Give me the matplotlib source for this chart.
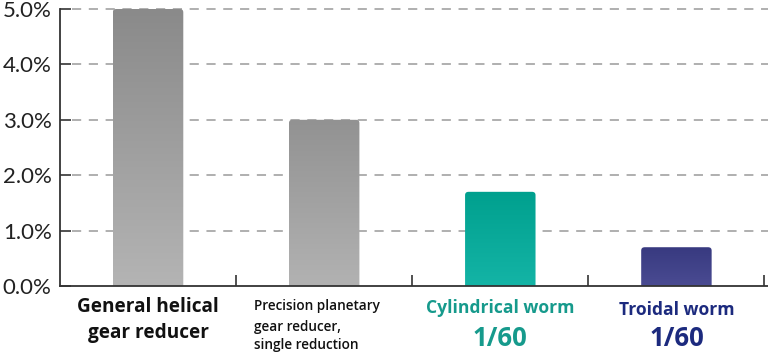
import matplotlib
matplotlib.use("Agg")
import matplotlib.pyplot as plt
import numpy as np
from matplotlib.colors import LinearSegmentedColormap
from matplotlib.patches import FancyBboxPatch

categories = ["General helical\ngear reducer",
              "Precision planetary\ngear reducer,\nsingle reduction",
              "Cylindrical worm", "Troidal worm"]
values = [5.0, 3.0, 1.7, 0.7]
sublabels = ["", "", "1/60", "1/60"]
yticks = [0.0, 1.0, 2.0, 3.0, 4.0, 5.0]
ytick_labels = ["0.0%", "1.0%", "2.0%", "3.0%", "4.0%", "5.0%"]

top_colors = ["#8a8a8a", "#929292", "#00a08e", "#383a80"]
bot_colors = ["#b4b4b4", "#b2b2b2", "#14b4a6", "#4a4b92"]
text_colors = ["#111111", "#111111", "#169a8c", "#1c2a7e"]

fig = plt.figure(figsize=(7.68, 3.54), dpi=100)
ax = fig.add_axes([60/768, 68/354, 708/768, 277/354])
ax.set_xlim(0, 4.02)
ax.set_ylim(0, 5.0)

for y in yticks[1:]:
    ax.axhline(y, xmin=0.017, color="#9a9a9a", lw=1.1, ls=(0, (6, 5)), zorder=1, clip_on=False)

width = 0.4
for i, v in enumerate(values):
    x0 = i + 0.5 - width / 2
    cmap = LinearSegmentedColormap.from_list("g", [bot_colors[i], top_colors[i]])
    grad = np.linspace(0, 1, 256).reshape(-1, 1)
    im = ax.imshow(grad, extent=[x0, x0 + width, 0, v], origin="lower",
                   aspect="auto", cmap=cmap, zorder=2)
    clip = FancyBboxPatch((x0, -0.2), width, v + 0.2,
                          boxstyle="round,pad=0,rounding_size=0.02",
                          mutation_aspect=3, transform=ax.transData,
                          facecolor="none", edgecolor="none")
    ax.add_patch(clip)
    im.set_clip_path(clip)
    im.set_clip_on(True)

ax.set_aspect("auto")
ax.set_xlim(0, 4.02)
ax.set_ylim(0, 5.0)

ax.set_yticks(yticks)
ax.set_yticklabels(ytick_labels, fontsize=16, family="Lato", color="#222222")
ax.set_xticks([1, 2, 3, 4])
ax.set_xticklabels([])
ax.tick_params(axis="both", direction="in", length=8, width=1.2, color="#333333")
ax.tick_params(axis="y", pad=6)
for s in ["top", "right"]:
    ax.spines[s].set_visible(False)
for s in ["left", "bottom"]:
    ax.spines[s].set_linewidth(1.3)
    ax.spines[s].set_color("#333333")

tr = ax.get_xaxis_transform()

def yf(py):
    # pixel row (from top) -> axes fraction
    return (286 - py) / 277.0

fam = ["Open Sans", "DejaVu Sans"]
# category 1
l1 = categories[0].split("\n")
ax.text(0.5, yf(307), l1[0], transform=tr, ha="center", va="center",
        fontsize=13.7, fontweight="bold", family=fam, color=text_colors[0])
ax.text(0.5, yf(333), l1[1], transform=tr, ha="center", va="center",
        fontsize=13.7, fontweight="bold", family=fam, color=text_colors[0])
# category 2
l2 = categories[1].split("\n")
for line, py in zip(l2, [306, 327, 345]):
    ax.text(1.1, yf(py), line, transform=tr, ha="left", va="center",
            fontsize=9.8, fontweight="semibold", family=fam, color=text_colors[1])
# worms
ax.text(2.5, yf(308), categories[2], transform=tr, ha="center", va="center",
        fontsize=12.6, fontweight="bold", family=fam, color=text_colors[2])
ax.text(3.5, yf(310), categories[3], transform=tr, ha="center", va="center",
        fontsize=12.6, fontweight="bold", family=fam, color=text_colors[3])
for i in [2, 3]:
    ax.text(i + 0.5, yf(338), sublabels[i], transform=tr, ha="center", va="center",
            fontsize=18.5, fontweight="bold", family=fam, color=text_colors[i])

fig.savefig("out.png", dpi=100)
